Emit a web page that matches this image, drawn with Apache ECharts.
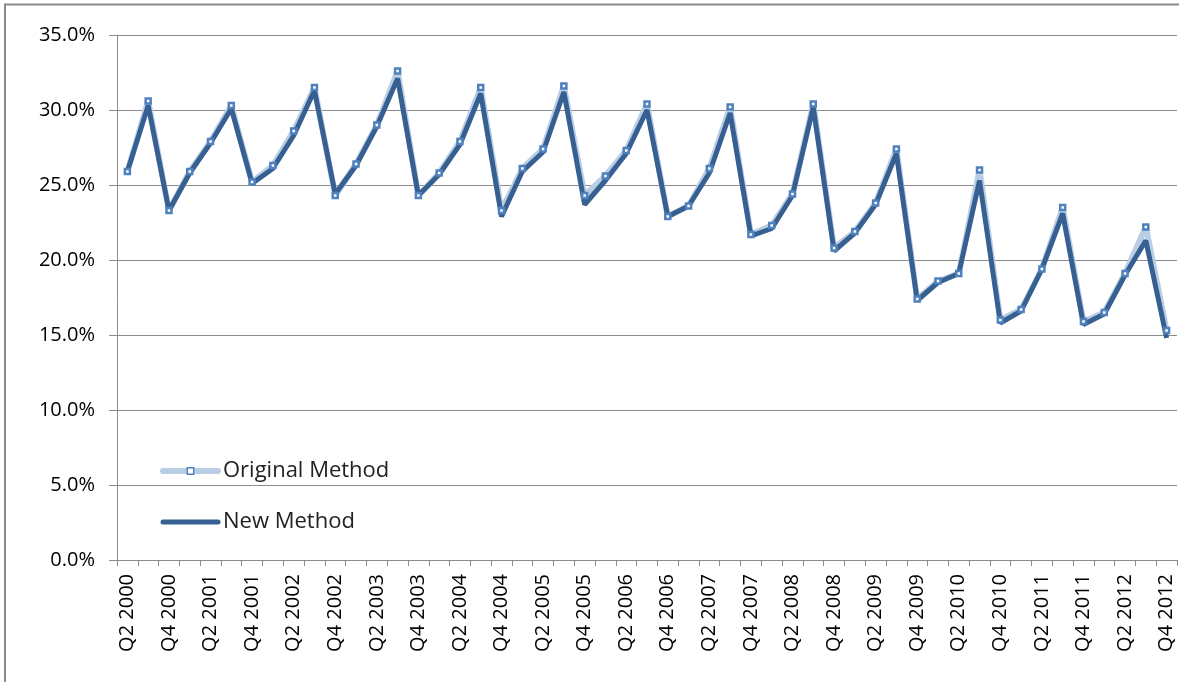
<!DOCTYPE html>
<html>
<head>
<meta charset="utf-8">
<script src="https://cdn.jsdelivr.net/npm/echarts@6/dist/echarts.min.js"></script>
<style>
  html, body { margin: 0; padding: 0; background: #ffffff; }
  #chart { width: 1179px; height: 682px; }
</style>
</head>
<body>
<div id="chart"></div>
<script>
// Quarterly categories, Q2 2000 through Q4 2012
const quarters = [
  'Q2 2000', 'Q3 2000', 'Q4 2000',
  'Q1 2001', 'Q2 2001', 'Q3 2001', 'Q4 2001',
  'Q1 2002', 'Q2 2002', 'Q3 2002', 'Q4 2002',
  'Q1 2003', 'Q2 2003', 'Q3 2003', 'Q4 2003',
  'Q1 2004', 'Q2 2004', 'Q3 2004', 'Q4 2004',
  'Q1 2005', 'Q2 2005', 'Q3 2005', 'Q4 2005',
  'Q1 2006', 'Q2 2006', 'Q3 2006', 'Q4 2006',
  'Q1 2007', 'Q2 2007', 'Q3 2007', 'Q4 2007',
  'Q1 2008', 'Q2 2008', 'Q3 2008', 'Q4 2008',
  'Q1 2009', 'Q2 2009', 'Q3 2009', 'Q4 2009',
  'Q1 2010', 'Q2 2010', 'Q3 2010', 'Q4 2010',
  'Q1 2011', 'Q2 2011', 'Q3 2011', 'Q4 2011',
  'Q1 2012', 'Q2 2012', 'Q3 2012', 'Q4 2012'
];

// Percent values per quarter
const originalMethod = [
  25.9, 30.6, 23.3,
  25.9, 27.9, 30.3, 25.2,
  26.3, 28.6, 31.5, 24.3,
  26.4, 29.0, 32.6, 24.3,
  25.8, 27.9, 31.5, 23.3,
  26.1, 27.4, 31.6, 24.3,
  25.6, 27.3, 30.4, 22.9,
  23.6, 26.1, 30.2, 21.7,
  22.3, 24.4, 30.4, 20.8,
  21.9, 23.8, 27.4, 17.4,
  18.6, 19.1, 26.0, 16.0,
  16.7, 19.4, 23.5, 15.9,
  16.5, 19.1, 22.2, 15.3
];

const newMethod = [
  25.9, 30.3, 23.3,
  25.8, 27.8, 30.1, 25.1,
  26.1, 28.3, 31.3, 24.4,
  26.3, 28.9, 32.1, 24.3,
  25.7, 27.7, 31.1, 22.9,
  25.9, 27.2, 31.2, 23.7,
  25.3, 27.1, 30.0, 22.9,
  23.6, 25.8, 29.8, 21.6,
  22.1, 24.3, 30.2, 20.6,
  21.8, 23.7, 27.1, 17.3,
  18.5, 19.1, 25.3, 15.8,
  16.6, 19.4, 23.1, 15.7,
  16.4, 19.0, 21.3, 14.8
];

const FONT = 'Open Sans';
const GRID_GRAY = '#8c8c8c';
const LIGHT_BLUE = '#b9cde5';
const DARK_BLUE = '#376092';

const markerStyle = {
  color: '#ffffff',
  borderColor: '#4f81bd',
  borderWidth: 2.5
};

const chart = echarts.init(document.getElementById('chart'), null, { renderer: 'canvas' });

chart.setOption({
  backgroundColor: '#ffffff',
  animation: false,
  textStyle: { fontFamily: FONT },
  grid: { left: 117, right: 2, top: 35, bottom: 122, containLabel: false },
  legend: {
    orient: 'vertical',
    left: 160,
    top: 460,
    padding: 0,
    itemWidth: 55,
    itemHeight: 8,
    itemGap: 29,
    data: [
      {
        name: 'Original Method',
        itemStyle: { color: '#ffffff', borderColor: '#4f81bd', borderWidth: 1.5 },
        lineStyle: { color: LIGHT_BLUE, width: 6, cap: 'round' }
      },
      {
        name: 'New Method',
        itemStyle: { opacity: 0 },
        lineStyle: { color: DARK_BLUE, width: 5, cap: 'round' }
      }
    ],
    textStyle: { fontFamily: FONT, fontSize: 22, color: '#222', lineHeight: 22 }
  },
  xAxis: {
    type: 'category',
    data: quarters,
    boundaryGap: true,
    axisLine: { lineStyle: { color: GRID_GRAY, width: 1 } },
    axisTick: { show: true, interval: 0, length: 6, lineStyle: { color: GRID_GRAY } },
    axisLabel: {
      interval: 1,
      rotate: 90,
      margin: 14,
      fontFamily: FONT,
      fontSize: 20,
      color: '#000'
    },
    splitLine: { show: false }
  },
  yAxis: {
    type: 'value',
    min: 0,
    max: 35,
    interval: 5,
    axisLine: { show: true, lineStyle: { color: GRID_GRAY, width: 1 } },
    axisTick: { show: true, length: 8, lineStyle: { color: GRID_GRAY } },
    axisLabel: {
      margin: 22,
      fontFamily: FONT,
      fontSize: 20,
      color: '#000',
      formatter: v => v.toFixed(1) + '%'
    },
    splitLine: { show: true, lineStyle: { color: GRID_GRAY, width: 1 } }
  },
  series: [
    {
      name: 'Original Method',
      type: 'line',
      data: originalMethod,
      z: 2,
      symbol: 'rect',
      symbolSize: 5,
      showSymbol: false,
      itemStyle: markerStyle,
      lineStyle: { color: LIGHT_BLUE, width: 6 }
    },
    {
      name: 'New Method',
      type: 'line',
      data: newMethod,
      z: 3,
      symbol: 'none',
      itemStyle: { color: DARK_BLUE },
      lineStyle: { color: DARK_BLUE, width: 5 }
    },
    {
      // markers of the original series, drawn above both lines
      name: 'Original Method',
      type: 'line',
      data: originalMethod,
      z: 4,
      symbol: 'rect',
      symbolSize: 5,
      showSymbol: true,
      itemStyle: markerStyle,
      lineStyle: { width: 0, opacity: 0 }
    }
  ],
  graphic: [
    {
      type: 'polyline',
      silent: true,
      shape: { points: [[5, 682], [5, 4.5], [1179, 4.5]] },
      style: { stroke: '#8a8a8a', lineWidth: 2, fill: null }
    }
  ]
});
</script>
</body>
</html>
